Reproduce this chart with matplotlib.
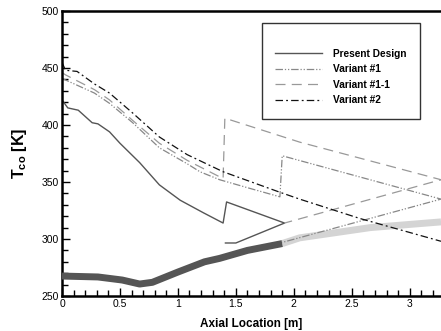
import matplotlib
matplotlib.use("Agg")
import matplotlib.pyplot as plt
from matplotlib.ticker import MultipleLocator
from matplotlib.lines import Line2D

plt.rcParams['font.family'] = ['Liberation Sans', 'DejaVu Sans']
plt.rcParams['mathtext.fontset'] = 'custom'
plt.rcParams['mathtext.bf'] = 'Liberation Sans:bold'
plt.rcParams['mathtext.rm'] = 'Liberation Sans'

# Present Design (solid)
x_present = [0.0, 0.05, 0.14, 0.26, 0.31, 0.41, 0.5, 0.67, 0.84, 1.02, 1.22, 1.39, 1.42, 1.92, 1.5, 1.41]
y_present = [422, 415, 413, 402, 401, 394, 384, 367, 347.5, 334, 323, 314, 332.5, 314, 296.5, 296.5]

# Variant #1 (dash-dot-dot)
x_var1 = [0.0, 0.03, 0.28, 0.41, 0.61, 0.84, 1.08, 1.19, 1.36, 1.6, 1.88, 1.9, 3.27, 1.9]
y_var1 = [441, 439.5, 428, 419, 402, 380, 366, 359, 352, 345, 337, 373, 335, 297]

# Variant #1-1 (dashed)
x_var11 = [0.0, 0.03, 0.28, 0.41, 0.61, 0.84, 1.08, 1.39, 1.405, 2.05, 3.27, 1.92]
y_var11 = [446, 444, 431, 422, 404, 384, 369, 353, 406, 385, 352, 314]

# Variant #2 (dash-dot)
x_var2 = [0.0, 0.03, 0.13, 0.28, 0.41, 0.61, 0.84, 1.08, 1.39, 1.88, 2.05, 2.57, 3.27]
y_var2 = [455, 448, 447, 436, 428, 410.5, 389.5, 374, 359, 341, 335, 318, 298]

# Wall temperature (thick)
x_wall_dark = [0.0, 0.31, 0.52, 0.67, 0.78, 1.0, 1.23, 1.36, 1.6, 1.9]
y_wall_dark = [267.5, 266.7, 264, 260.5, 262, 271, 280, 283, 290, 296]
x_wall_light = [1.9, 2.05, 2.66, 3.27]
y_wall_light = [296, 301, 310, 315]

xticks = [0, 0.5, 1, 1.5, 2, 2.5, 3]
xticklabels = ["0", "0.5", "1", "1.5", "2", "2.5", "3"]
yticks = [250, 300, 350, 400, 450, 500]

ls_var1 = (0, (6, 1.5, 1, 1.5, 1, 1.5))
ls_var11 = (0, (8, 5))
ls_var2 = (0, (6, 2.5, 1.5, 2.5))

fig = plt.figure(figsize=(4.41, 3.31), dpi=100)
ax = fig.add_axes([62/441, 1-296/331, 1-62/441, (296-11)/331])

ax.plot(x_wall_dark, y_wall_dark, color='#555555', lw=5, solid_capstyle='butt', zorder=3)
ax.plot(x_wall_light, y_wall_light, color='#d4d4d4', lw=5, solid_capstyle='butt', zorder=2)

ax.plot(x_present, y_present, color='#555555', lw=1.0, ls='-')
ax.plot(x_var1, y_var1, color='#888888', lw=0.9, ls=ls_var1)
ax.plot(x_var11, y_var11, color='#999999', lw=0.9, ls=ls_var11)
ax.plot(x_var2, y_var2, color='#111111', lw=0.9, ls=ls_var2)

ax.set_xlim(0, 3.27)
ax.set_ylim(250, 500)
ax.set_xticks(xticks)
ax.set_xticklabels(xticklabels)
ax.set_yticks(yticks)
ax.xaxis.set_minor_locator(MultipleLocator(0.1))
ax.yaxis.set_minor_locator(MultipleLocator(10))
ax.tick_params(which='major', direction='in', length=6, width=1, labelsize=7.5, pad=2)
ax.tick_params(which='minor', direction='in', length=4, width=1)
ax.tick_params(top=False, right=False, which='both')
for s in ['left', 'bottom', 'top']:
    ax.spines[s].set_linewidth(1.8)
ax.spines['right'].set_visible(False)

ax.set_xlabel('Axial Location [m]', fontsize=8.5, fontweight='bold', labelpad=7)
ax.set_ylabel(r'$\mathbf{T_{co}}$ [K]', fontsize=11.5, fontweight='bold', labelpad=9)

handles = [
    Line2D([], [], color='#555555', lw=1.0, ls='-'),
    Line2D([], [], color='#888888', lw=0.9, ls=ls_var1),
    Line2D([], [], color='#999999', lw=0.9, ls=ls_var11),
    Line2D([], [], color='#111111', lw=0.9, ls=ls_var2),
]
labels = ['Present Design', 'Variant #1', 'Variant #1-1', 'Variant #2']
leg = ax.legend(handles, labels, loc='upper left', bbox_to_anchor=((262-62)/379, 1-(23-11)/285),
                prop={'weight': 'bold', 'size': 7.3}, frameon=True, fancybox=False,
                edgecolor='black', handlelength=4.6, handletextpad=1.1, borderpad=1.3,
                labelspacing=0.55, borderaxespad=0, title=' ',
                title_fontproperties={'size': 5})
leg.get_frame().set_linewidth(1.0)

fig.savefig('out.png', dpi=100)
